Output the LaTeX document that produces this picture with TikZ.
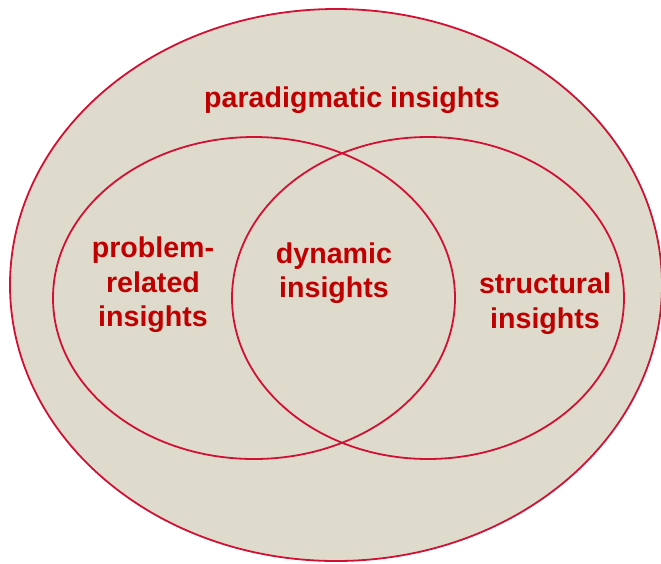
\documentclass[tikz,border=0pt]{standalone}
\usepackage{fontspec}
\setmainfont{Liberation Sans}
\usetikzlibrary{shapes.geometric, positioning}

\definecolor{sand}{RGB}{223,219,204}
\definecolor{rim}{RGB}{210,16,52}
\definecolor{ink}{RGB}{192,0,0}

\begin{document}
\begin{tikzpicture}[x=1pt, y=-1pt,
    set/.style={ellipse, draw=rim, line width=1.8pt, inner sep=0pt},
    tag/.style={text=ink, align=center, inner sep=0pt,
        font=\bfseries\fontsize{28.6}{34.5}\selectfont}]
    \useasboundingbox (0,0) rectangle (661,563);

    \node[set, fill=sand, minimum width=652pt, minimum height=552pt] (para) at (336,285) {};
    \node[set, minimum width=402pt, minimum height=322pt] (prob) at (254,298) {};
    \node[set, minimum width=392pt, minimum height=322pt] (struct) at (428,298) {};

    \node[tag] (paralbl) at (352,100) {paradigmatic insights};
    \node[tag] (problbl) at (153,285) {problem-\\related\\insights};
    \node[tag] (dynlbl) at (334,273) {dynamic\\insights};
    \node[tag] (structlbl) at (545,303.5) {structural\\insights};
\end{tikzpicture}
\end{document}
